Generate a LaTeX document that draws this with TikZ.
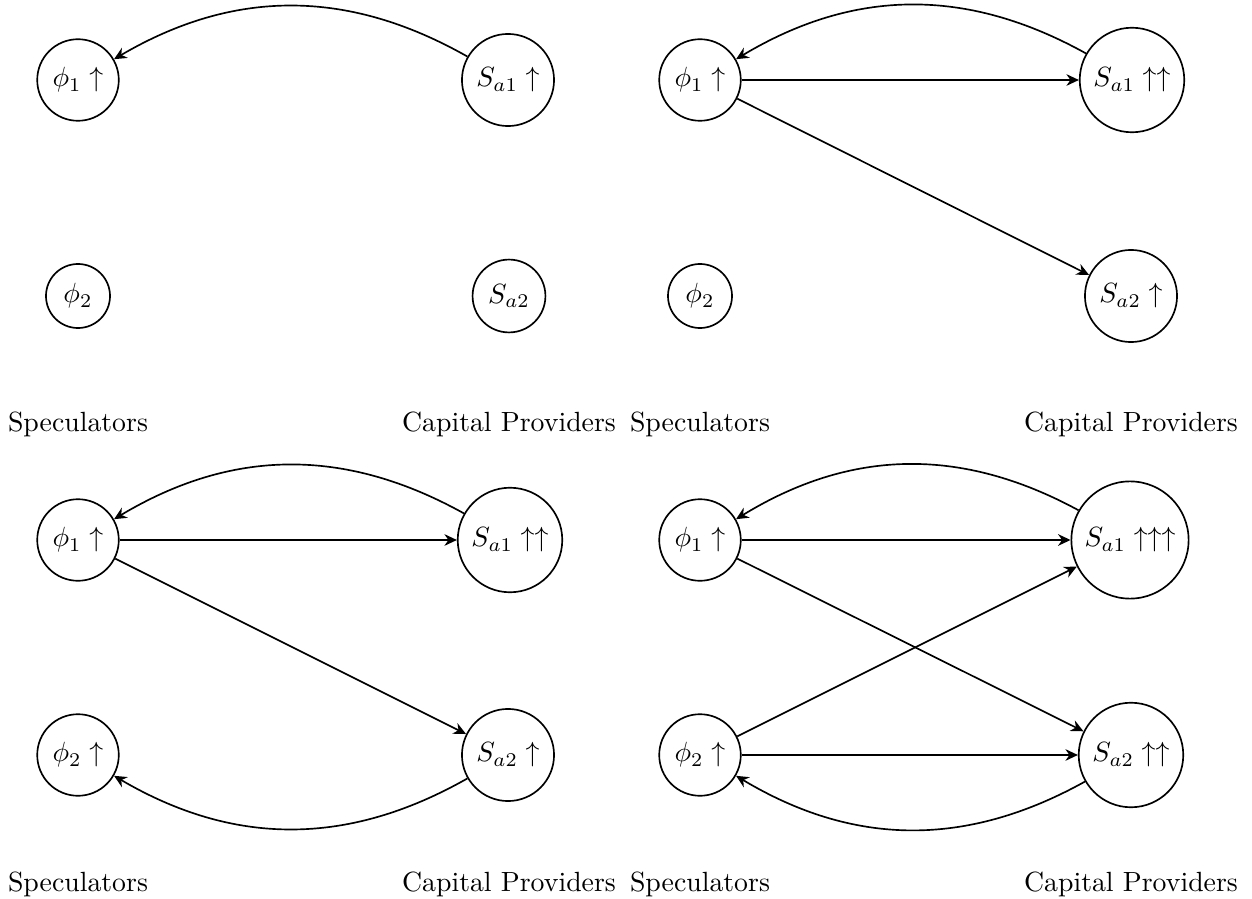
\documentclass[tikz,border=0pt]{standalone}
\usepackage{amsmath}
\usetikzlibrary{arrows.meta, positioning}

\begin{document}
\begin{tikzpicture}[x=0.36pt, y=-0.36pt,
        agent/.style={circle, draw, semithick},
        flow/.style={-{Stealth[length=4.5pt, width=4.2pt]}, semithick},
        side/.style={anchor=base}]
    \useasboundingbox (0,0) rectangle (1252,899);
    % top left
    \begin{scope}
        \node[agent] (p1a) at (78,80) {$\phi_1 \uparrow$};
        \node[agent] (p2a) at (78,296) {$\phi_2$};
        \node[agent] (s1a) at (508,80) {$S_{a1} \uparrow$};
        \node[agent] (s2a) at (509,296) {$S_{a2}$};
        \node[side] (spa) at (78,432) {Speculators};
        \node[side] (cpa) at (509,432) {Capital Providers};
        \draw[flow] (s1a) to[bend right=30] (p1a);
    \end{scope}
    % top right
    \begin{scope}[shift={(622,0)}]
        \node[agent] (p1b) at (78,80) {$\phi_1 \uparrow$};
        \node[agent] (p2b) at (78,296) {$\phi_2$};
        \node[agent] (s1b) at (510,80) {$S_{a1} \uparrow\uparrow$};
        \node[agent] (s2b) at (509,296) {$S_{a2} \uparrow$};
        \node[side] (spb) at (78,432) {Speculators};
        \node[side] (cpb) at (509,432) {Capital Providers};
        \draw[flow] (s1b) to[bend right=30] (p1b);
        \draw[flow] (p1b) -- (s1b);
        \draw[flow] (p1b) -- (s2b);
    \end{scope}
    % bottom left
    \begin{scope}[shift={(0,460)}]
        \node[agent] (p1c) at (78,80) {$\phi_1 \uparrow$};
        \node[agent] (p2c) at (78,295) {$\phi_2 \uparrow$};
        \node[agent] (s1c) at (510,80) {$S_{a1} \uparrow\uparrow$};
        \node[agent] (s2c) at (508,295) {$S_{a2} \uparrow$};
        \node[side] (spc) at (78,431) {Speculators};
        \node[side] (cpc) at (509,431) {Capital Providers};
        \draw[flow] (s1c) to[bend right=30] (p1c);
        \draw[flow] (p1c) -- (s1c);
        \draw[flow] (p1c) -- (s2c);
        \draw[flow] (s2c) to[bend left=30] (p2c);
    \end{scope}
    % bottom right
    \begin{scope}[shift={(622,460)}]
        \node[agent] (p1d) at (78,80) {$\phi_1 \uparrow$};
        \node[agent] (p2d) at (78,295) {$\phi_2 \uparrow$};
        \node[agent] (s1d) at (508,80) {$S_{a1} \uparrow\uparrow\uparrow$};
        \node[agent] (s2d) at (509,295) {$S_{a2} \uparrow\uparrow$};
        \node[side] (spd) at (78,431) {Speculators};
        \node[side] (cpd) at (509,431) {Capital Providers};
        \draw[flow] (s1d) to[bend right=30] (p1d);
        \draw[flow] (p1d) -- (s1d);
        \draw[flow] (p1d) -- (s2d);
        \draw[flow] (p2d) -- (s1d);
        \draw[flow] (p2d) -- (s2d);
        \draw[flow] (s2d) to[bend left=30] (p2d);
    \end{scope}
\end{tikzpicture}
\end{document}
